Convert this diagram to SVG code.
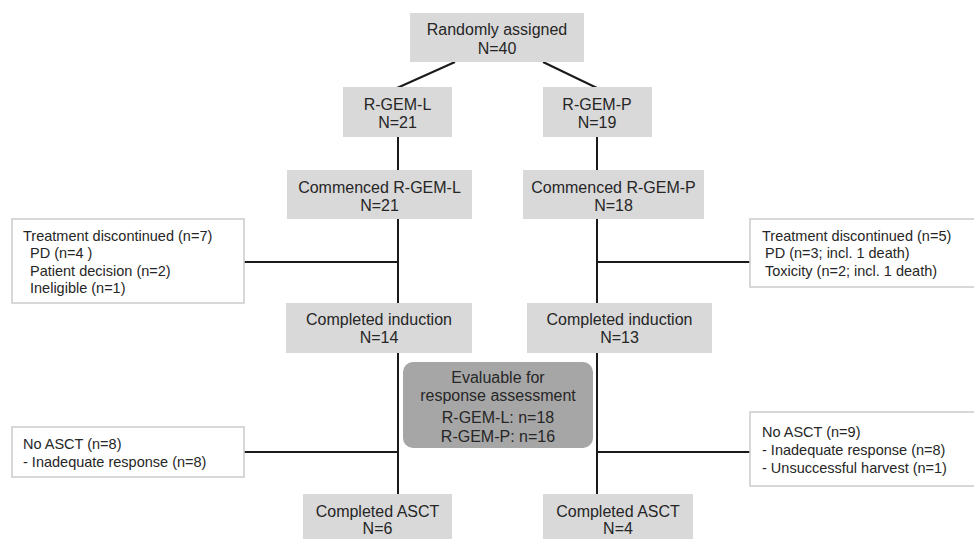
<svg xmlns="http://www.w3.org/2000/svg" width="974" height="539" viewBox="0 0 974 539">
<style>
  .node { fill: #d9d9d9; }
  .side { fill: #ffffff; stroke: #cfcfcf; stroke-width: 1.6; }
  .eval { fill: #a6a6a6; }
  .t { font-family: "Liberation Sans", Arial, sans-serif; font-size: 16px; fill: #262626; text-anchor: middle; }
  .s { font-family: "Liberation Sans", Arial, sans-serif; font-size: 14.5px; fill: #262626; }
  .conn line { stroke: #1a1a1a; stroke-width: 2; }
</style>
<rect width="974" height="539" fill="#ffffff"/>
<g class="conn" id="connectors">
  <line x1="455" y1="62" x2="397" y2="88"/>
  <line x1="543" y1="62" x2="597" y2="88"/>
  <line x1="398" y1="137" x2="398" y2="170"/>
  <line x1="398" y1="219" x2="398" y2="303"/>
  <line x1="398" y1="353" x2="398" y2="494"/>
  <line x1="597" y1="137" x2="597" y2="170"/>
  <line x1="597" y1="219" x2="597" y2="303"/>
  <line x1="597" y1="353" x2="597" y2="494"/>
  <line x1="244" y1="262" x2="398" y2="262"/>
  <line x1="597" y1="262" x2="750" y2="262"/>
  <line x1="244" y1="452" x2="398" y2="452"/>
  <line x1="597" y1="452" x2="750" y2="452"/>
</g>
<g id="randomly">
  <rect class="node" x="410" y="13" width="174" height="49"/>
  <text class="t" x="497" y="35">Randomly assigned</text>
  <text class="t" x="497" y="54">N=40</text>
</g>
<g id="rgeml">
  <rect class="node" x="343" y="87" width="109" height="50"/>
  <text class="t" x="397.5" y="110">R-GEM-L</text>
  <text class="t" x="397.5" y="128">N=21</text>
</g>
<g id="rgemp">
  <rect class="node" x="543" y="87" width="109" height="50"/>
  <text class="t" x="597" y="110">R-GEM-P</text>
  <text class="t" x="597" y="128">N=19</text>
</g>
<g id="commenced-l">
  <rect class="node" x="287" y="170" width="185" height="49"/>
  <text class="t" x="379.5" y="193">Commenced R-GEM-L</text>
  <text class="t" x="379.5" y="211">N=21</text>
</g>
<g id="commenced-p">
  <rect class="node" x="523" y="170" width="181" height="49"/>
  <text class="t" x="613.5" y="193">Commenced R-GEM-P</text>
  <text class="t" x="613.5" y="211">N=18</text>
</g>
<g id="disc-l">
  <rect class="side" x="12" y="219" width="232" height="84"/>
  <text class="s" x="23" y="241">Treatment discontinued (n=7)</text>
  <text class="s" x="30" y="258">PD (n=4 )</text>
  <text class="s" x="30" y="276">Patient decision (n=2)</text>
  <text class="s" x="30" y="293">Ineligible (n=1)</text>
</g>
<g id="disc-p">
  <rect class="side" x="750" y="219" width="232" height="68"/>
  <text class="s" x="762" y="241">Treatment discontinued (n=5)</text>
  <text class="s" x="765" y="258">PD (n=3; incl. 1 death)</text>
  <text class="s" x="765" y="276">Toxicity (n=2; incl. 1 death)</text>
</g>
<g id="induction-l">
  <rect class="node" x="286" y="303" width="186" height="50"/>
  <text class="t" x="379" y="325">Completed induction</text>
  <text class="t" x="379" y="343">N=14</text>
</g>
<g id="induction-p">
  <rect class="node" x="527" y="303" width="185" height="50"/>
  <text class="t" x="619.5" y="325">Completed induction</text>
  <text class="t" x="619.5" y="343">N=13</text>
</g>
<g id="evaluable">
  <rect class="eval" x="403" y="362" width="190" height="86" rx="10"/>
  <text class="t" x="498" y="383">Evaluable for</text>
  <text class="t" x="498" y="401">response assessment</text>
  <text class="t" x="498" y="423">R-GEM-L: n=18</text>
  <text class="t" x="498" y="442">R-GEM-P: n=16</text>
</g>
<g id="noasct-l">
  <rect class="side" x="12" y="427" width="232" height="50"/>
  <text class="s" x="23" y="449">No ASCT (n=8)</text>
  <text class="s" x="23" y="467">- Inadequate response (n=8)</text>
</g>
<g id="noasct-p">
  <rect class="side" x="750" y="412" width="232" height="74"/>
  <text class="s" x="762" y="437">No ASCT (n=9)</text>
  <text class="s" x="762" y="455">- Inadequate response (n=8)</text>
  <text class="s" x="762" y="473">- Unsuccessful harvest (n=1)</text>
</g>
<g id="asct-l">
  <rect class="node" x="303" y="494" width="149" height="50"/>
  <text class="t" x="377.5" y="517">Completed ASCT</text>
  <text class="t" x="377.5" y="534">N=6</text>
</g>
<g id="asct-p">
  <rect class="node" x="543" y="494" width="150" height="50"/>
  <text class="t" x="618" y="517">Completed ASCT</text>
  <text class="t" x="618" y="534">N=4</text>
</g>
</svg>
